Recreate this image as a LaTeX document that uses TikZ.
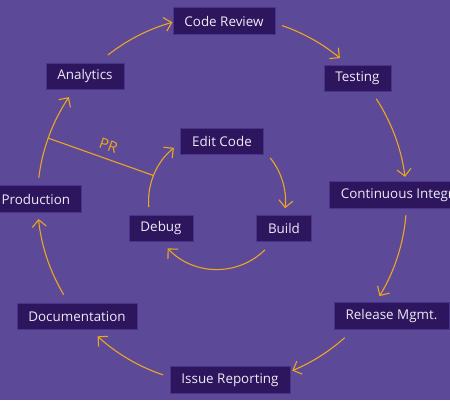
\documentclass[tikz,border=0pt]{standalone}
\usepackage{fontspec}
\setmainfont{Open Sans}
\usetikzlibrary{arrows.meta,calc}
\definecolor{bgc}{RGB}{92,73,152}
\definecolor{boxc}{RGB}{46,22,94}
\definecolor{boxline}{RGB}{72,52,138}
\definecolor{txtc}{RGB}{238,234,246}
\definecolor{orc}{RGB}{236,166,32}
\tikzset{
  box/.style={draw=boxline, line width=0.7pt, fill=boxc, text=txtc,
    font=\fontsize{13.4}{15}\selectfont, inner xsep=11.5pt, inner ysep=0pt,
    minimum height=26.5pt},
  arr/.style={draw=orc, line width=1.1pt, -{Straight Barb[length=7pt,width=14pt]}},
  prline/.style={draw=orc, line width=1.1pt},
  prlab/.style={text=orc, font=\fontsize{15}{17}\selectfont}
}
\begin{document}
\begin{tikzpicture}[x=1pt,y=1pt]
\useasboundingbox (0,0) rectangle (450,400);
\clip (0,0) rectangle (450,400);
\fill[bgc] (0,0) rectangle (450,400);

\node[box] (cr) at (224,379) {Code Review};
\node[box] (test) at (357.5,321.5) {Testing};
\node[box, anchor=west] (ci) at (329,205) {Continuous Integration};
\node[box] (rel) at (391.5,84) {Release Mgmt.};
\node[box] (issue) at (230,20) {Issue Reporting};
\node[box] (doc) at (77,83.5) {Documentation};
\node[box, anchor=east] (prod) at (82,201) {Production};
\node[box] (ana) at (85,323.5) {Analytics};
\node[box] (edit) at (222,258.5) {Edit Code};
\node[box] (debug) at (161,171.5) {Debug};
\node[box] (build) at (284,171.5) {Build};

\draw[arr] ([shift={(22.9,21.5)}]ana.center) to[out=38.2,in=195.6,looseness=0.86] ([shift={(-51.6,-1.3)}]cr.center);
\draw[arr] ([shift={(58.1,-4.6)}]cr.center) to[out=-19,in=140.3,looseness=0.86] ([shift={(-17.6,20.4)}]test.center);
\draw[arr] ([shift={(18.7,-20.2)}]test.center) to[out=-56.7,in=97.2,looseness=0.86] ([shift={(76.0,18.1)}]ci.west);
\draw[arr] ([shift={(76.9,-20.1)}]ci.west) to[out=-94.7,in=58.6,looseness=0.86] ([shift={(-12.0,19.9)}]rel.center);
\draw[arr] ([shift={(-46.8,-21.7)}]rel.center) to[out=-138.3,in=22.4,looseness=0.86] ([shift={(62.3,9.4)}]issue.center);
\draw[arr] ([shift={(-66.9,5.1)}]issue.center) to[out=161.4,in=317.6,looseness=0.86] ([shift={(20.6,-19.8)}]doc.center);
\draw[arr] ([shift={(-13.3,21.8)}]doc.center) to[out=120.9,in=275.9,looseness=0.86] ([shift={(-43.5,-20.0)}]prod.east);
\draw[arr] ([shift={(-43.2,21.2)}]prod.east) to[out=83.1,in=236.1,looseness=0.86] coordinate[pos=0.47] (pra) ([shift={(-16.1,-20.6)}]ana.center);

\draw[arr] ([shift={(-12.2,21.5)}]debug.center) to[out=95,in=219,looseness=0.9] coordinate[pos=0.48] (prb) ([shift={(-48.1,-6.3)}]edit.center);
\draw[arr] ([shift={(48.2,-16.4)}]edit.center) to[out=-51,in=84,looseness=0.88] ([shift={(1.1,20.3)}]build.center);
\draw[arr] ([shift={(-19.1,-21.4)}]build.center) to[out=-135.6,in=-46.2,looseness=1.0] ([shift={(6.6,-19.9)}]debug.center);

\draw[prline] (pra) -- node[prlab, sloped, above=4pt, pos=0.53] (prlabel) {PR} (prb);
\end{tikzpicture}
\end{document}
